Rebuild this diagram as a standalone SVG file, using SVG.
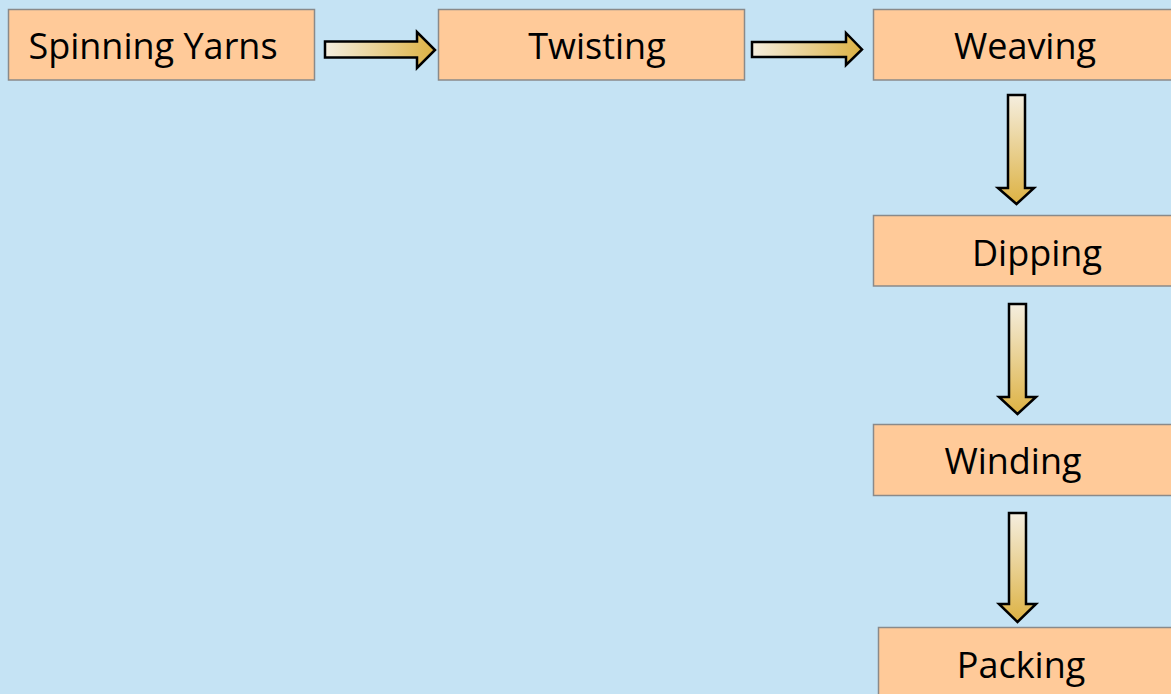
<svg xmlns="http://www.w3.org/2000/svg" width="1171" height="694" viewBox="0 0 1171 694">
<defs>
<linearGradient id="gh" x1="0" y1="0" x2="1" y2="0">
<stop offset="0" stop-color="#F5EEDF"/>
<stop offset="1" stop-color="#DDB243"/>
</linearGradient>
<linearGradient id="gv" x1="0" y1="0" x2="0" y2="1">
<stop offset="0" stop-color="#F5EEDF"/>
<stop offset="1" stop-color="#DDB243"/>
</linearGradient>
</defs>
<style>
.box{fill:#FFCA99;stroke:#8A8A8A;stroke-width:1.5}
.lbl{font-family:"Open Sans","Liberation Sans",sans-serif;font-size:36px;fill:#000;text-anchor:middle}
.ah{fill:url(#gh);stroke:#000;stroke-width:2.5;stroke-linejoin:miter}
.av{fill:url(#gv);stroke:#000;stroke-width:2.5;stroke-linejoin:miter}
</style>
<rect width="1171" height="694" fill="#C5E3F4"/>
<g id="connectors">
<path class="ah" d="M325,41.5 H417 V32 L435,50 L417,68 V57.5 H325 Z"/>
<path class="ah" d="M752,42 H846 V33 L862,49.5 L846,65 V57 H752 Z"/>
<path class="av" d="M1008,95 H1025 V188 H1034 L1016.5,204 L998,188 H1008 Z"/>
<path class="av" d="M1009,304 H1026 V397 H1036 L1017.5,414 L999,397 H1009 Z"/>
<path class="av" d="M1009,513 H1026 V604 H1036 L1017.5,622 L999,604 H1009 Z"/>
</g>
<g id="spinning">
<rect class="box" x="8.5" y="9.5" width="306" height="70.5"/>
<text class="lbl" x="153" y="59">Spinning Yarns</text>
</g>
<g id="twisting">
<rect class="box" x="438.5" y="9.5" width="306" height="70.5"/>
<text class="lbl" x="597" y="59">Twisting</text>
</g>
<g id="weaving">
<rect class="box" x="873.5" y="9.5" width="310" height="70.5"/>
<text class="lbl" x="1025" y="59">Weaving</text>
</g>
<g id="dipping">
<rect class="box" x="873.5" y="215.5" width="310" height="70.5"/>
<text class="lbl" x="1037" y="266">Dipping</text>
</g>
<g id="winding">
<rect class="box" x="873.5" y="424.5" width="310" height="71"/>
<text class="lbl" x="1013" y="474">Winding</text>
</g>
<g id="packing">
<rect class="box" x="878.5" y="627.5" width="310" height="80"/>
<text class="lbl" x="1021" y="678">Packing</text>
</g>
</svg>
